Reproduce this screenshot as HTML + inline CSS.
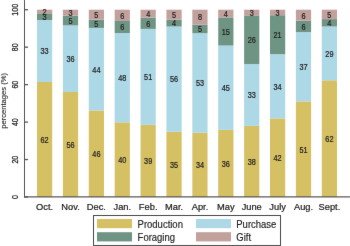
<!DOCTYPE html><html><head><meta charset="utf-8"><style>html,body{margin:0;padding:0;background:#fff;width:350px;height:246px;overflow:hidden}svg{display:block}text{font-family:"Liberation Sans",sans-serif;fill:#222;stroke:#222;stroke-width:0.22px}</style></head><body>
<svg width="350" height="246" viewBox="0 0 350 246">
<defs><filter id="b" x="-5%" y="-5%" width="110%" height="110%" color-interpolation-filters="sRGB"><feConvolveMatrix order="3" kernelMatrix="0.0029 0.0478 0.0029 0.0478 0.7972 0.0478 0.0029 0.0478 0.0029" divisor="1" edgeMode="duplicate"/></filter></defs><rect width="350" height="246" fill="#fff"/><g filter="url(#b)">
<rect x="37.00" y="82.00" width="15.2" height="115.00" fill="#D6C064"/>
<rect x="37.00" y="20.00" width="15.2" height="62.00" fill="#ADD8E6"/>
<rect x="37.00" y="13.30" width="15.2" height="6.70" fill="#6E9484"/>
<rect x="37.00" y="9.70" width="15.2" height="3.60" fill="#C2A19D"/>
<text transform="translate(44.60 142.84) scale(1 1.12)" font-size="7.3" text-anchor="middle" style="stroke-width:0.2px">62</text>
<text transform="translate(44.60 54.34) scale(1 1.12)" font-size="7.3" text-anchor="middle" style="stroke-width:0.2px">33</text>
<text transform="translate(44.60 19.99) scale(1 1.12)" font-size="7.3" text-anchor="middle" style="stroke-width:0.2px">3</text>
<text transform="translate(44.60 14.84) scale(1 1.12)" font-size="7.3" text-anchor="middle" style="stroke-width:0.2px">2</text>
<text transform="translate(44.60 209.50) scale(1 1.06)" font-size="9.3" text-anchor="middle">Oct.</text>
<rect x="62.89" y="92.00" width="15.2" height="105.00" fill="#D6C064"/>
<rect x="62.89" y="25.40" width="15.2" height="66.60" fill="#ADD8E6"/>
<rect x="62.89" y="15.60" width="15.2" height="9.80" fill="#6E9484"/>
<rect x="62.89" y="9.70" width="15.2" height="5.90" fill="#C2A19D"/>
<text transform="translate(70.49 147.84) scale(1 1.12)" font-size="7.3" text-anchor="middle" style="stroke-width:0.2px">56</text>
<text transform="translate(70.49 62.04) scale(1 1.12)" font-size="7.3" text-anchor="middle" style="stroke-width:0.2px">36</text>
<text transform="translate(70.49 23.84) scale(1 1.12)" font-size="7.3" text-anchor="middle" style="stroke-width:0.2px">5</text>
<text transform="translate(70.49 15.99) scale(1 1.12)" font-size="7.3" text-anchor="middle" style="stroke-width:0.2px">3</text>
<text transform="translate(70.49 209.50) scale(1 1.06)" font-size="9.3" text-anchor="middle">Nov.</text>
<rect x="88.78" y="110.50" width="15.2" height="86.50" fill="#D6C064"/>
<rect x="88.78" y="27.90" width="15.2" height="82.60" fill="#ADD8E6"/>
<rect x="88.78" y="19.60" width="15.2" height="8.30" fill="#6E9484"/>
<rect x="88.78" y="9.70" width="15.2" height="9.90" fill="#C2A19D"/>
<text transform="translate(96.38 157.09) scale(1 1.12)" font-size="7.3" text-anchor="middle" style="stroke-width:0.2px">46</text>
<text transform="translate(96.38 72.54) scale(1 1.12)" font-size="7.3" text-anchor="middle" style="stroke-width:0.2px">44</text>
<text transform="translate(96.38 27.09) scale(1 1.12)" font-size="7.3" text-anchor="middle" style="stroke-width:0.2px">5</text>
<text transform="translate(96.38 17.99) scale(1 1.12)" font-size="7.3" text-anchor="middle" style="stroke-width:0.2px">5</text>
<text transform="translate(96.38 209.50) scale(1 1.06)" font-size="9.3" text-anchor="middle">Dec.</text>
<rect x="114.67" y="122.30" width="15.2" height="74.70" fill="#D6C064"/>
<rect x="114.67" y="33.00" width="15.2" height="89.30" fill="#ADD8E6"/>
<rect x="114.67" y="21.00" width="15.2" height="12.00" fill="#6E9484"/>
<rect x="114.67" y="9.70" width="15.2" height="11.30" fill="#C2A19D"/>
<text transform="translate(122.27 162.99) scale(1 1.12)" font-size="7.3" text-anchor="middle" style="stroke-width:0.2px">40</text>
<text transform="translate(122.27 80.99) scale(1 1.12)" font-size="7.3" text-anchor="middle" style="stroke-width:0.2px">48</text>
<text transform="translate(122.27 30.34) scale(1 1.12)" font-size="7.3" text-anchor="middle" style="stroke-width:0.2px">6</text>
<text transform="translate(122.27 18.69) scale(1 1.12)" font-size="7.3" text-anchor="middle" style="stroke-width:0.2px">6</text>
<text transform="translate(122.27 209.50) scale(1 1.06)" font-size="9.3" text-anchor="middle">Jan.</text>
<rect x="140.56" y="124.80" width="15.2" height="72.20" fill="#D6C064"/>
<rect x="140.56" y="28.90" width="15.2" height="95.90" fill="#ADD8E6"/>
<rect x="140.56" y="17.70" width="15.2" height="11.20" fill="#6E9484"/>
<rect x="140.56" y="9.70" width="15.2" height="8.00" fill="#C2A19D"/>
<text transform="translate(148.16 164.24) scale(1 1.12)" font-size="7.3" text-anchor="middle" style="stroke-width:0.2px">39</text>
<text transform="translate(148.16 80.19) scale(1 1.12)" font-size="7.3" text-anchor="middle" style="stroke-width:0.2px">51</text>
<text transform="translate(148.16 26.64) scale(1 1.12)" font-size="7.3" text-anchor="middle" style="stroke-width:0.2px">6</text>
<text transform="translate(148.16 17.04) scale(1 1.12)" font-size="7.3" text-anchor="middle" style="stroke-width:0.2px">4</text>
<text transform="translate(148.16 209.50) scale(1 1.06)" font-size="9.3" text-anchor="middle">Feb.</text>
<rect x="166.45" y="131.80" width="15.2" height="65.20" fill="#D6C064"/>
<rect x="166.45" y="26.50" width="15.2" height="105.30" fill="#ADD8E6"/>
<rect x="166.45" y="19.70" width="15.2" height="6.80" fill="#6E9484"/>
<rect x="166.45" y="9.70" width="15.2" height="10.00" fill="#C2A19D"/>
<text transform="translate(174.05 167.74) scale(1 1.12)" font-size="7.3" text-anchor="middle" style="stroke-width:0.2px">35</text>
<text transform="translate(174.05 82.49) scale(1 1.12)" font-size="7.3" text-anchor="middle" style="stroke-width:0.2px">56</text>
<text transform="translate(174.05 26.44) scale(1 1.12)" font-size="7.3" text-anchor="middle" style="stroke-width:0.2px">4</text>
<text transform="translate(174.05 18.04) scale(1 1.12)" font-size="7.3" text-anchor="middle" style="stroke-width:0.2px">5</text>
<text transform="translate(174.05 209.50) scale(1 1.06)" font-size="9.3" text-anchor="middle">Mar.</text>
<rect x="192.34" y="132.60" width="15.2" height="64.40" fill="#D6C064"/>
<rect x="192.34" y="33.20" width="15.2" height="99.40" fill="#ADD8E6"/>
<rect x="192.34" y="24.60" width="15.2" height="8.60" fill="#6E9484"/>
<rect x="192.34" y="9.70" width="15.2" height="14.90" fill="#C2A19D"/>
<text transform="translate(199.94 168.14) scale(1 1.12)" font-size="7.3" text-anchor="middle" style="stroke-width:0.2px">34</text>
<text transform="translate(199.94 86.24) scale(1 1.12)" font-size="7.3" text-anchor="middle" style="stroke-width:0.2px">53</text>
<text transform="translate(199.94 32.24) scale(1 1.12)" font-size="7.3" text-anchor="middle" style="stroke-width:0.2px">5</text>
<text transform="translate(199.94 20.49) scale(1 1.12)" font-size="7.3" text-anchor="middle" style="stroke-width:0.2px">8</text>
<text transform="translate(199.94 209.50) scale(1 1.06)" font-size="9.3" text-anchor="middle">Apr.</text>
<rect x="218.23" y="129.90" width="15.2" height="67.10" fill="#D6C064"/>
<rect x="218.23" y="45.50" width="15.2" height="84.40" fill="#ADD8E6"/>
<rect x="218.23" y="17.40" width="15.2" height="28.10" fill="#6E9484"/>
<rect x="218.23" y="9.70" width="15.2" height="7.70" fill="#C2A19D"/>
<text transform="translate(225.83 166.79) scale(1 1.12)" font-size="7.3" text-anchor="middle" style="stroke-width:0.2px">36</text>
<text transform="translate(225.83 91.04) scale(1 1.12)" font-size="7.3" text-anchor="middle" style="stroke-width:0.2px">45</text>
<text transform="translate(225.83 34.79) scale(1 1.12)" font-size="7.3" text-anchor="middle" style="stroke-width:0.2px">15</text>
<text transform="translate(225.83 16.89) scale(1 1.12)" font-size="7.3" text-anchor="middle" style="stroke-width:0.2px">4</text>
<text transform="translate(225.83 209.50) scale(1 1.06)" font-size="9.3" text-anchor="middle">May</text>
<rect x="244.12" y="125.90" width="15.2" height="71.10" fill="#D6C064"/>
<rect x="244.12" y="64.00" width="15.2" height="61.90" fill="#ADD8E6"/>
<rect x="244.12" y="15.40" width="15.2" height="48.60" fill="#6E9484"/>
<rect x="244.12" y="9.70" width="15.2" height="5.70" fill="#C2A19D"/>
<text transform="translate(251.72 164.79) scale(1 1.12)" font-size="7.3" text-anchor="middle" style="stroke-width:0.2px">38</text>
<text transform="translate(251.72 98.29) scale(1 1.12)" font-size="7.3" text-anchor="middle" style="stroke-width:0.2px">33</text>
<text transform="translate(251.72 43.04) scale(1 1.12)" font-size="7.3" text-anchor="middle" style="stroke-width:0.2px">26</text>
<text transform="translate(251.72 15.89) scale(1 1.12)" font-size="7.3" text-anchor="middle" style="stroke-width:0.2px">3</text>
<text transform="translate(251.72 209.50) scale(1 1.06)" font-size="9.3" text-anchor="middle">June</text>
<rect x="270.01" y="118.40" width="15.2" height="78.60" fill="#D6C064"/>
<rect x="270.01" y="54.20" width="15.2" height="64.20" fill="#ADD8E6"/>
<rect x="270.01" y="15.20" width="15.2" height="39.00" fill="#6E9484"/>
<rect x="270.01" y="9.70" width="15.2" height="5.50" fill="#C2A19D"/>
<text transform="translate(277.61 161.04) scale(1 1.12)" font-size="7.3" text-anchor="middle" style="stroke-width:0.2px">42</text>
<text transform="translate(277.61 89.64) scale(1 1.12)" font-size="7.3" text-anchor="middle" style="stroke-width:0.2px">34</text>
<text transform="translate(277.61 38.04) scale(1 1.12)" font-size="7.3" text-anchor="middle" style="stroke-width:0.2px">21</text>
<text transform="translate(277.61 15.79) scale(1 1.12)" font-size="7.3" text-anchor="middle" style="stroke-width:0.2px">3</text>
<text transform="translate(277.61 209.50) scale(1 1.06)" font-size="9.3" text-anchor="middle">July</text>
<rect x="295.90" y="101.40" width="15.2" height="95.60" fill="#D6C064"/>
<rect x="295.90" y="32.10" width="15.2" height="69.30" fill="#ADD8E6"/>
<rect x="295.90" y="20.70" width="15.2" height="11.40" fill="#6E9484"/>
<rect x="295.90" y="9.70" width="15.2" height="11.00" fill="#C2A19D"/>
<text transform="translate(303.50 152.54) scale(1 1.12)" font-size="7.3" text-anchor="middle" style="stroke-width:0.2px">51</text>
<text transform="translate(303.50 70.09) scale(1 1.12)" font-size="7.3" text-anchor="middle" style="stroke-width:0.2px">37</text>
<text transform="translate(303.50 29.74) scale(1 1.12)" font-size="7.3" text-anchor="middle" style="stroke-width:0.2px">6</text>
<text transform="translate(303.50 18.54) scale(1 1.12)" font-size="7.3" text-anchor="middle" style="stroke-width:0.2px">6</text>
<text transform="translate(303.50 209.50) scale(1 1.06)" font-size="9.3" text-anchor="middle">Aug.</text>
<rect x="321.79" y="80.30" width="15.2" height="116.70" fill="#D6C064"/>
<rect x="321.79" y="26.50" width="15.2" height="53.80" fill="#ADD8E6"/>
<rect x="321.79" y="19.10" width="15.2" height="7.40" fill="#6E9484"/>
<rect x="321.79" y="9.70" width="15.2" height="9.40" fill="#C2A19D"/>
<text transform="translate(329.39 141.99) scale(1 1.12)" font-size="7.3" text-anchor="middle" style="stroke-width:0.2px">62</text>
<text transform="translate(329.39 56.74) scale(1 1.12)" font-size="7.3" text-anchor="middle" style="stroke-width:0.2px">29</text>
<text transform="translate(329.39 26.14) scale(1 1.12)" font-size="7.3" text-anchor="middle" style="stroke-width:0.2px">4</text>
<text transform="translate(329.39 17.74) scale(1 1.12)" font-size="7.3" text-anchor="middle" style="stroke-width:0.2px">5</text>
<text transform="translate(329.39 209.50) scale(1 1.06)" font-size="9.3" text-anchor="middle">Sept.</text>
<path d="M24.5 0 V197.6" fill="none" stroke="#555" stroke-width="1"/>
<path d="M24 196.8 H350" fill="none" stroke="#5a5a5a" stroke-width="1.2"/>
<path d="M24.5 197.00 H28" stroke="#555" stroke-width="1.3"/>
<text transform="translate(17.90 197.10) rotate(-90) scale(1 1.25)" font-size="7.0" text-anchor="middle">0</text>
<path d="M24.5 159.54 H28" stroke="#555" stroke-width="1.3"/>
<text transform="translate(17.90 159.64) rotate(-90) scale(1 1.25)" font-size="7.0" text-anchor="middle">20</text>
<path d="M24.5 122.08 H28" stroke="#555" stroke-width="1.3"/>
<text transform="translate(17.90 122.18) rotate(-90) scale(1 1.25)" font-size="7.0" text-anchor="middle">40</text>
<path d="M24.5 84.62 H28" stroke="#555" stroke-width="1.3"/>
<text transform="translate(17.90 84.72) rotate(-90) scale(1 1.25)" font-size="7.0" text-anchor="middle">60</text>
<path d="M24.5 47.16 H28" stroke="#555" stroke-width="1.3"/>
<text transform="translate(17.90 47.26) rotate(-90) scale(1 1.25)" font-size="7.0" text-anchor="middle">80</text>
<path d="M24.5 9.70 H28" stroke="#555" stroke-width="1.3"/>
<text transform="translate(17.90 9.80) rotate(-90) scale(1 1.25)" font-size="7.0" text-anchor="middle">100</text>
<text transform="translate(5.80 100.85) rotate(-90) scale(1 1.0)" font-size="7.6" text-anchor="middle" style="stroke-width:0.1px">percentages (%)</text>
<rect x="93.5" y="215.5" width="187" height="30" fill="none" stroke="#4a4a4a" stroke-width="1"/>
<rect x="97" y="219" width="35" height="9.2" fill="#D6C064"/>
<rect x="97" y="232.2" width="35" height="9.2" fill="#6E9484"/>
<rect x="196" y="219" width="35" height="9.2" fill="#ADD8E6"/>
<rect x="196" y="232.2" width="35" height="9.2" fill="#C2A19D"/>
<text transform="translate(137.60 227.50) scale(1 1.06)" font-size="9.5" style="stroke-width:0.15px">Production</text>
<text transform="translate(137.60 240.60) scale(1 1.06)" font-size="9.5" style="stroke-width:0.15px">Foraging</text>
<text transform="translate(236.30 227.50) scale(1 1.06)" font-size="9.5" style="stroke-width:0.15px">Purchase</text>
<text transform="translate(236.30 240.60) scale(1 1.06)" font-size="9.5" style="stroke-width:0.15px">Gift</text>
</g></svg></body></html>
